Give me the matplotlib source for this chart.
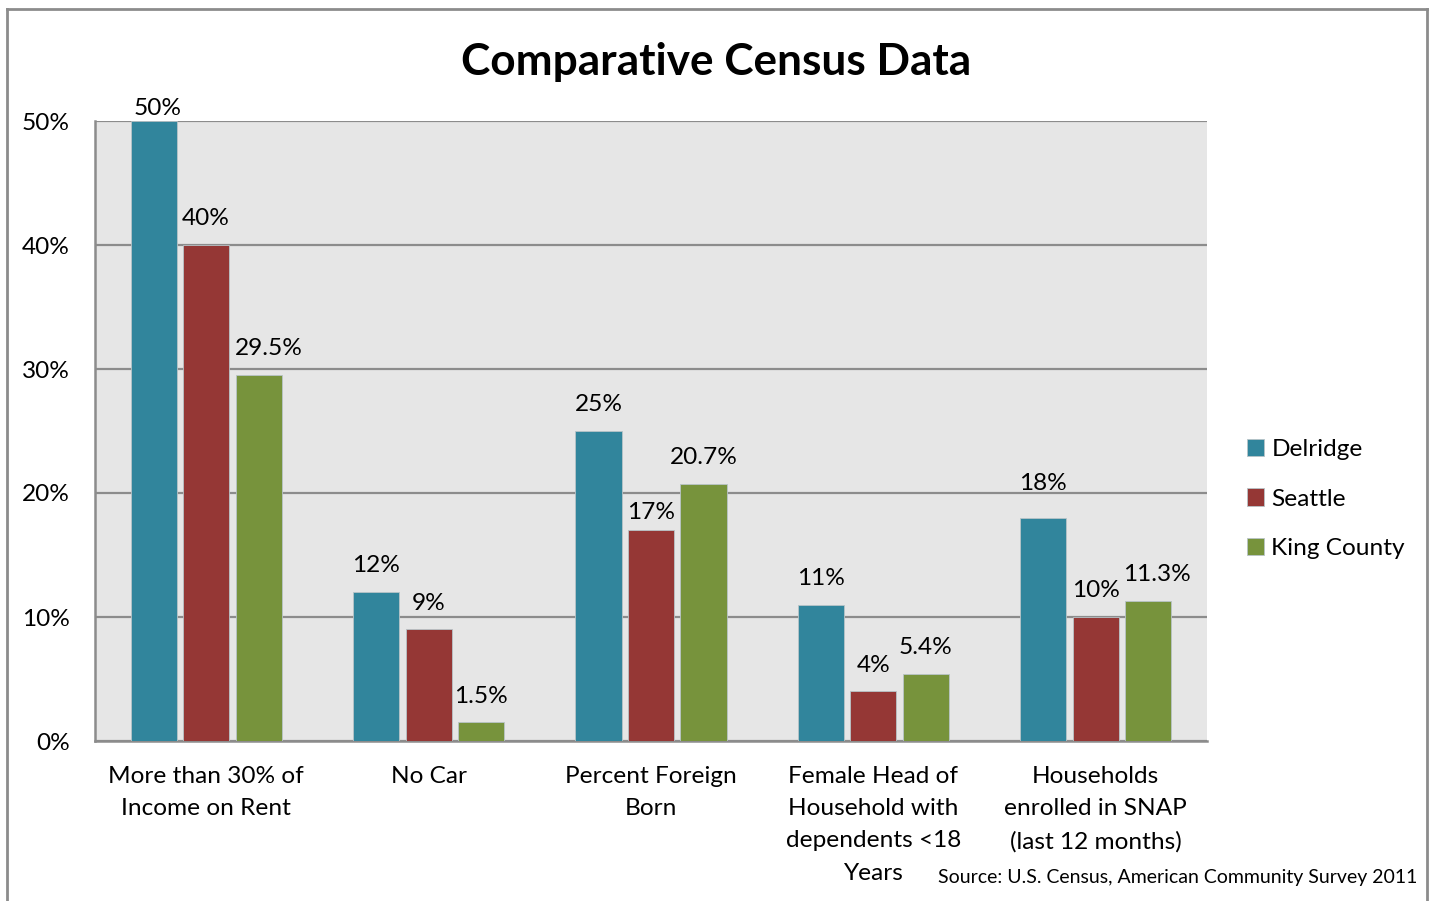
import matplotlib
matplotlib.use("Agg")
import matplotlib.pyplot as plt
import numpy as np
from matplotlib.lines import Line2D
from matplotlib.ticker import FuncFormatter

plt.rcParams["font.family"] = ["Lato", "DejaVu Sans"]

categories = [
    "More than 30% of\nIncome on Rent",
    "No Car",
    "Percent Foreign\nBorn",
    "Female Head of\nHousehold with\ndependents <18\nYears",
    "Households\nenrolled in SNAP\n(last 12 months)",
]
delridge = [50, 12, 25, 11, 18]
seattle = [40, 9, 17, 4, 10]
king_county = [29.5, 1.5, 20.7, 5.4, 11.3]
delridge_labels = ["50%", "12%", "25%", "11%", "18%"]
seattle_labels = ["40%", "9%", "17%", "4%", "10%"]
king_county_labels = ["29.5%", "1.5%", "20.7%", "5.4%", "11.3%"]

series = [
    ("Delridge", delridge, delridge_labels, "#31859C"),
    ("Seattle", seattle, seattle_labels, "#953735"),
    ("King County", king_county, king_county_labels, "#77933C"),
]

# hand nudges (points) for labels Excel moved to avoid overlaps
nudges = {
    ("Delridge", 0): (3, -10),
    ("Delridge", 4): (0, 6),
    ("Seattle", 2): (0, -6),
    ("King County", 0): (7, 0),
    ("King County", 4): (6, 0),
}

FS = 17.6

fig = plt.figure(figsize=(14.32, 9.01), dpi=100)
ax = fig.add_axes([95 / 1432, 1 - 741 / 901, 1112 / 1432, 620 / 901])
ax.set_facecolor("#E6E6E6")

x = np.arange(len(categories))
step = 0.236
width = 0.207
grid_color = "#8C8C8C"

for i, (name, values, labels, color) in enumerate(series):
    pos = x + (i - 1) * step
    ax.bar(pos, values, width, color=color, edgecolor="#B8C4C8", linewidth=0.6,
           label=name, zorder=3)
    for j, (px, v, lab) in enumerate(zip(pos, values, labels)):
        dx, dy = nudges.get((name, j), (0, 0))
        ax.annotate(lab, (px, v), xytext=(dx, 19 + dy), textcoords="offset points",
                    ha="center", va="center", fontsize=FS, color="black",
                    zorder=4, annotation_clip=False)

ax.set_xlim(-0.5, len(categories) - 0.5)
ax.set_ylim(0, 50)
ax.set_yticks(np.arange(0, 51, 10))
ax.yaxis.set_major_formatter(FuncFormatter(lambda v, _: f"{v:.0f}%"))
ax.set_xticks(x)
ax.set_xticklabels(categories, linespacing=1.66)
ax.tick_params(axis="both", length=0, labelsize=FS, colors="black")
ax.tick_params(axis="y", pad=18)
ax.tick_params(axis="x", pad=18)
ax.yaxis.grid(True, color=grid_color, linewidth=1.6, zorder=1)
ax.set_axisbelow(True)
for side in ["top", "right"]:
    ax.spines[side].set_visible(False)
for side in ["left", "bottom"]:
    ax.spines[side].set_color(grid_color)
    ax.spines[side].set_linewidth(1.8)

fig.text(716 / 1432, 1 - 62 / 901, "Comparative Census Data", ha="center",
         va="center", fontsize=31.8, fontweight="bold")

ax.legend(loc="center left", bbox_to_anchor=((1247 - 95) / 1112, (741 - 499) / 620),
          frameon=False, fontsize=FS, handlelength=0.7, handleheight=0.7,
          handletextpad=0.3, labelspacing=1.16, borderaxespad=0, borderpad=0)

fig.text(1417 / 1432, 1 - 878 / 901, "Source: U.S. Census, American Community Survey 2011",
         ha="right", va="center", fontsize=14)

# outer chart border (bottom edge is cut off in the original)
bx0, bx1 = 7 / 1432, 1427 / 1432
by1 = 1 - 9 / 901
for xs, ys in [([bx0, bx0], [0, by1]), ([bx0, bx1], [by1, by1]), ([bx1, bx1], [by1, 0])]:
    fig.add_artist(Line2D(xs, ys, color="#8C8C8C", linewidth=2, transform=fig.transFigure))

fig.savefig("out.png", dpi=100)
